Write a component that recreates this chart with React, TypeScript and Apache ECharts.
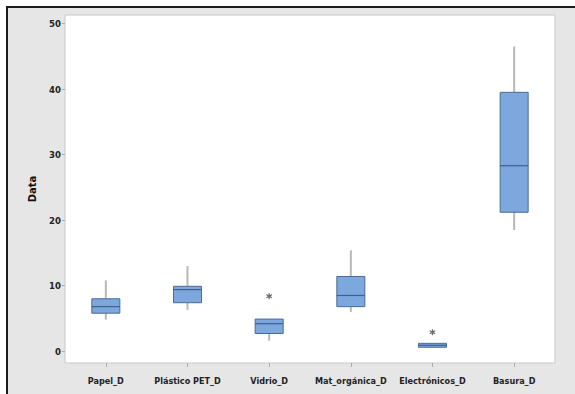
import React, { useEffect, useRef } from "react";
import * as echarts from "echarts";

const categories = ["Papel_D", "Plástico PET_D", "Vidrio_D", "Mat_orgánica_D", "Electrónicos_D", "Basura_D"];
// [min, Q1, median, Q3, max]
const boxValues: number[][] = [
  [4.8, 5.8, 6.8, 8.0, 10.8],
  [6.3, 7.4, 9.4, 9.9, 13.0],
  [1.6, 2.7, 4.2, 4.9, 4.9],
  [6.0, 6.8, 8.5, 11.4, 15.4],
  [0.6, 0.6, 0.9, 1.2, 1.2],
  [18.5, 21.2, 28.3, 39.5, 46.5],
];
const outliers: number[][] = [
  [2, 8.4],
  [4, 2.9],
];
const yTicks = [0, 10, 20, 30, 40, 50];

const FONT = "'DejaVu Sans Condensed', 'Liberation Sans Narrow', sans-serif";

export default function App() {
  const ref = useRef<HTMLDivElement>(null);
  useEffect(() => {
    if (!ref.current) return;
    const chart = echarts.init(ref.current, null, { renderer: "svg" });
    const data = boxValues.map((v, i) => [i, ...v]);
    chart.setOption({
      animation: false,
      backgroundColor: "#e6e6e6",
      grid: { left: 57, top: 7, right: 20, bottom: 31, show: true, backgroundColor: "#ffffff", borderColor: "#c8c8c8", borderWidth: 1 },
      xAxis: {
        type: "category",
        data: categories,
        axisLine: { show: false, onZero: false },
        axisTick: { show: true, alignWithLabel: true, length: 4, lineStyle: { color: "#aaaaaa" } },
        axisLabel: { interval: 0, fontFamily: FONT, fontSize: 9, fontWeight: "bold", color: "#222", margin: 13 },
        splitLine: { show: false },
      },
      yAxis: {
        type: "value",
        min: -1.8,
        max: 51.3,
        name: "Data",
        nameLocation: "middle",
        nameGap: 20,
        nameTextStyle: { fontFamily: FONT, fontSize: 11, fontWeight: "bold", color: "#111" },
        axisLine: { show: false },
        axisTick: { show: true, length: 3, lineStyle: { color: "#aaaaaa" }, customValues: yTicks },
        axisLabel: { fontFamily: FONT, fontSize: 9.5, fontWeight: "bold", color: "#222", margin: 4, customValues: yTicks },
        splitLine: { show: false },
      },
      series: [
        {
          type: "custom",
          data,
          encode: { x: 0, y: [1, 2, 3, 4, 5] },
          renderItem: (params: any, api: any) => {
            const idx = api.value(0);
            const vals = [1, 2, 3, 4, 5].map((k) => api.value(k));
            const pts = vals.map((v) => api.coord([idx, v]));
            const x = pts[0][0];
            const w = 28;
            const [yMin, yQ1, yMed, yQ3, yMax] = pts.map((p: number[]) => p[1]);
            const whisker = { stroke: "#b8b8b8", lineWidth: 2 };
            const children: any[] = [];
            if (yQ3 - yMax > 0.5)
              children.push({ type: "line", shape: { x1: x, y1: yMax, x2: x, y2: yQ3 }, style: whisker });
            if (yMin - yQ1 > 0.5)
              children.push({ type: "line", shape: { x1: x, y1: yQ1, x2: x, y2: yMin }, style: whisker });
            children.push({
              type: "rect",
              shape: { x: x - w / 2, y: yQ3, width: w, height: Math.max(yQ1 - yQ3, 1) },
              style: { fill: "#7ca8dd", stroke: "#4a6a96", lineWidth: 1 },
            });
            children.push({
              type: "line",
              shape: { x1: x - w / 2, y1: yMed, x2: x + w / 2, y2: yMed },
              style: { stroke: "#3f5f8c", lineWidth: 1.2 },
            });
            return { type: "group", children };
          },
        },
        {
          type: "scatter",
          data: outliers,
          symbol:
            "path://M4,0h2v3.3l2.9,-1.7l1,1.7l-2.9,1.7l2.9,1.7l-1,1.7l-2.9,-1.7v3.3h-2v-3.3l-2.9,1.7l-1,-1.7l2.9,-1.7l-2.9,-1.7l1,-1.7l2.9,1.7z",
          symbolSize: 6,
          itemStyle: { color: "#444" },
        },
      ],
    });
    return () => chart.dispose();
  }, []);
  return (
    <div style={{ position: "absolute", left: 0, top: 0, width: 575, height: 394, background: "#ffffff", overflow: "hidden" }}>
      <div
        style={{
          position: "absolute",
          left: 6,
          top: 6,
          borderTop: "2px solid #1a1a1a",
          borderLeft: "2px solid #1a1a1a",
          width: 567,
          height: 386,
        }}
      >
        <div ref={ref} style={{ width: 567, height: 386 }} />
      </div>
    </div>
  );
}
